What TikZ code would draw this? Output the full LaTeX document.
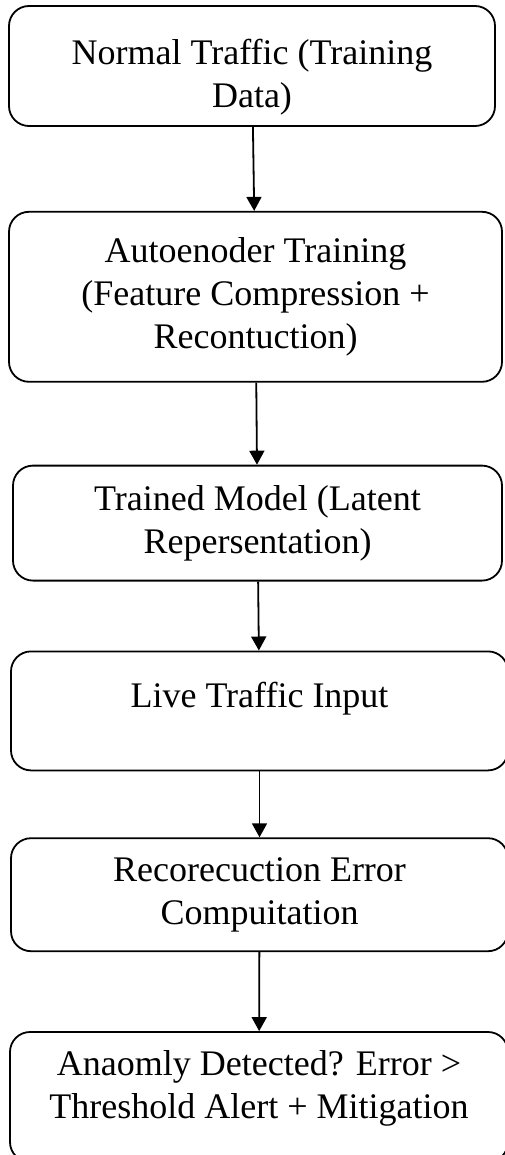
\documentclass[tikz,border=0pt]{standalone}
\usepackage{fontspec}
\setmainfont{Liberation Serif}
\usetikzlibrary{positioning,arrows.meta}

\tikzset{
  stage/.style={draw, line width=1.8pt, rounded corners=20pt, align=center,
    inner sep=0pt, font=\fontsize{36}{43}\selectfont},
  flow/.style={-{Triangle[length=14pt,width=15pt]}, line width=1.8pt},
}

\begin{document}
\begin{tikzpicture}

  \useasboundingbox (0,0) rectangle (505pt,-1155pt);

  \node (norm) [stage, minimum width=486pt, minimum height=120pt] at (252pt,-66pt)
    {\rule{0pt}{48pt}Normal Traffic (Training\\Data)};
  \node (train) [stage, minimum width=493pt, minimum height=170pt, below=84pt of norm, xshift=3.5pt]
    {Autoenoder Training\\(Feature Compression +\\Recontuction)};
  \node (model) [stage, minimum width=489pt, minimum height=115pt, below=82pt of train, xshift=2pt]
    {Trained Model (Latent\\Repersentation)};
  \node (live) [stage, minimum width=497pt, minimum height=119pt, text depth=32pt, below=69pt of model, xshift=2pt]
    {Live Traffic Input};
  \node (err) [stage, minimum width=497pt, minimum height=113pt, below=66pt of live]
    {Recorecuction Error\\Compuitation};
  \node (alert) [stage, minimum width=498pt, minimum height=130pt, below=79pt of err, xshift=-0.5pt]
    {Anaomly Detected? Error >\\Threshold Alert + Mitigation\rule[-26pt]{0pt}{0pt}};

  \draw [flow] (norm) -- (train);
  \draw [flow] (train) -- (model);
  \draw [flow] (model) -- (live);
  \draw [flow] (live) -- (err);
  \draw [flow] (err) -- (alert);

\end{tikzpicture}
\end{document}
